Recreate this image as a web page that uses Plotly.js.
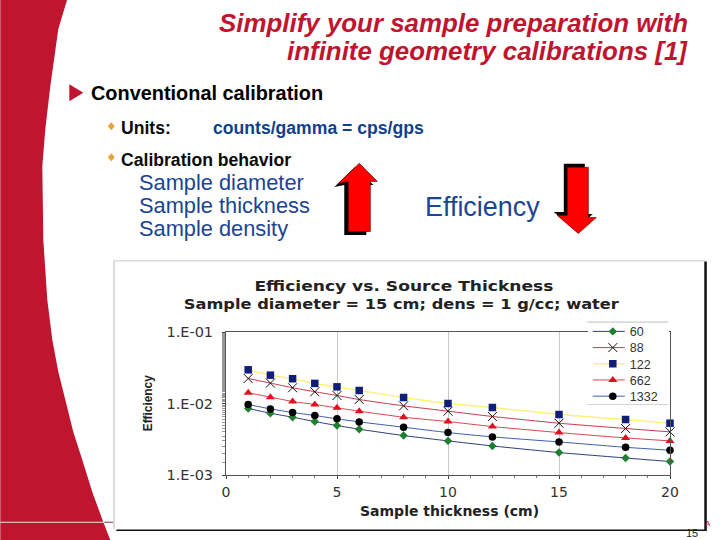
<!DOCTYPE html>
<html><head><meta charset="utf-8">
<script src="https://cdn.plot.ly/plotly-3.0.1.min.js"></script>
<style>html,body{margin:0;padding:0;background:#fff}#c{width:720px;height:540px}</style>
</head><body><div id="c"></div>
<script>
const thickness = [1,2,3,4,5,6,8,10,12,15,18,20];
const e60   = [.00851,.00731,.00643,.00559,.00492,.00437,.00356,.00300,.00255,.00206,.00173,.00154];
const e88   = [.0224,.0193,.0166,.0146,.01294,.01137,.00927,.00781,.00658,.0053,.00447,.00401];
const e122  = [.0296,.0249,.0222,.0191,.0171,.0152,.01213,.0100,.00879,.00701,.00597,.0053];
const e662  = [.0141,.01227,.01067,.00968,.00869,.00781,.00643,.00559,.00476,.00392,.0033,.0030];
const e1332 = [.00968,.00841,.00748,.00679,.0061,.00553,.00466,.00392,.00341,.0029,.00244,.00222];
const yTicks = [0.1,0.01,0.001];
const yLabels = ['1.E-01','1.E-02','1.E-03'];
const xTicks = [0,5,10,15,20];
const chartTitle1 = 'Efficiency vs. Source Thickness';
const chartTitle2 = 'Sample diameter = 15 cm; dens = 1 g/cc; water';
const yTitle = 'Efficiency';

const W=720,H=540,L=225.7,R=669.7,T=332.3,B=475;
const fx=x=>(x-L)/(R-L), fy=y=>1-(y-T)/(B-T);
const path=pts=>'M'+pts.map(p=>fx(p[0]).toFixed(4)+' '+fy(p[1]).toFixed(4)).join(' L')+' Z';
const poly=(pts,fill,lw,lc)=>({type:'path',xref:'paper',yref:'paper',path:path(pts),fillcolor:fill,line:{width:lw||0,color:lc||fill},layer:'below'});
const rect=(x0,y0,x1,y1,fill)=>({type:'rect',xref:'paper',yref:'paper',x0:fx(x0),x1:fx(x1),y0:fy(y0),y1:fy(y1),fillcolor:fill,line:{width:0},layer:'below'});
const txt=(s,x,y,size,color,anchor,family)=>({text:s,xref:'paper',yref:'paper',x:fx(x),y:fy(y),xanchor:anchor||'left',yanchor:'middle',showarrow:false,borderpad:0,font:{size:size,color:color,family:family||'Liberation Sans, Arial, sans-serif'}});
const bold=a=>{a.font.weight=700;return a;};

const crimson='#C0152F', blue='#1A4494', navy='#123F8C';
const swoosh=[[0,0],[67,0],[58,30],[50,87],[45,130],[42,167],[43,240],[47,300],[52,340],[58,372],[65,400],[73,432],[82,460],[92,492],[103,522],[110,540],[0,540]];
const upShaft=(dx,dy)=>[[359+dx,164+dy],[377+dx,182+dy],[370+dx,182+dy],[370+dx,232+dy],[348+dx,232+dy],[348+dx,182+dy],[338+dx,184+dy]];
const downShaft=(dx,dy)=>[[567+dx,168+dy],[588+dx,168+dy],[588+dx,218+dy],[596+dx,218+dy],[578+dx,234+dy],[557+dx,216+dy],[567+dx,216+dy]];

const shapes=[
  poly(swoosh,crimson),
  rect(0,521.6,104,522.6,'#f3dde0'),
  rect(104,521.6,114,522.6,'#8a2a45'),
  rect(113,261,705,530,'#ffffff'),
  rect(113,261,114.5,529,'#d0d0d0'),
  rect(113,260.5,705,262,'#dcdcdc'),
  rect(116,529.5,706,531,'#111111'),
  rect(704,262,706.5,531,'#111111'),
  poly([[69,85],[83,93.5],[69,102]],crimson),
  poly([[107.5,127],[111,123],[114.5,127],[111,131]],'#E8A23C'),
  poly([[107.5,158],[111,154],[114.5,158],[111,162]],'#E8A23C'),
  poly(upShaft(-4,3.5),'#000000'),
  poly(upShaft(0,0),'#FF0000',0.7,'#700000'),
  poly(downShaft(-3.5,-3.5),'#000000'),
  poly(downShaft(0,0),'#FF0000',0.7,'#700000'),
  {type:'line',xref:'paper',yref:'paper',x0:fx(587),x1:fx(668),y0:fy(322.5),y1:fy(322.5),line:{color:'#cccccc',width:1.3}},
  {type:'line',xref:'paper',yref:'paper',x0:fx(587),x1:fx(668),y0:fy(404.5),y1:fy(404.5),line:{color:'#cccccc',width:1}}
];

const annotations=[
  txt('<b><i>Simplify your sample preparation with</i></b>',689,24,25.9,crimson,'right'),
  txt('<b><i>infinite geometry calibrations [1]</i></b>',689,52,25.9,crimson,'right'),
  txt('<b>Conventional calibration</b>',90,94,19.9,'#000000'),
  txt('<b>Units:</b>',120,129,17.6,'#0a0a0a'),
  txt('<b>counts/gamma = cps/gps</b>',212,129,17.6,navy),
  txt('<b>Calibration behavior</b>',120,160.5,17.6,'#0a0a0a'),
  txt('Sample diameter',138,183.5,21.8,blue),
  txt('Sample thickness',138,206.5,21.8,blue),
  txt('Sample density',138,229,21.8,blue),
  txt('Efficiency',423.5,208,26.9,blue),
  bold(txt(chartTitle1,403.5,286,13.6,'#222222','center','DejaVu Sans, sans-serif')),
  bold(txt(chartTitle2,401.5,304,13.6,'#222222','center','DejaVu Sans, sans-serif')),
  txt('<b>Sample thickness (cm)</b>',449,511,14,'#222222','center','DejaVu Sans, sans-serif'),
  Object.assign(bold(txt(yTitle,148,403,13.5,'#222222','center','Liberation Sans, sans-serif')),{textangle:-90}),
  txt('15',692,532.5,11,'#222222','center'),
  txt('A',708,523,8,crimson,'center')
];
const stretch=[[chartTitle1,299],[chartTitle2,435],[yTitle,56]];

const mk=(name,y,lineColor,lineW,sym,size,mColor,extra)=>({
  type:'scatter',mode:'lines+markers',name,x:thickness,y,cliponaxis:false,
  line:{color:lineColor,width:lineW,shape:'spline',smoothing:0.6},
  marker:Object.assign({symbol:sym,size:size,color:mColor},extra||{})
});
const traces=[
  mk('60',e60,'#2a3f7a',1,'diamond',6.5,'#1E7F2E'),
  mk('88',e88,'#c73a4a',1,'x-thin-open',9,'#111111',{line:{width:1,color:'#111111'}}),
  mk('122',e122,'#FFF07A',1.5,'square',7.5,'#0F1E78'),
  mk('662',e662,'#d4484f',1,'triangle-up',8,'#E01020'),
  mk('1332',e1332,'#3a5fb0',1,'circle',7.5,'#000000')
];
const layout={
  width:W,height:H,
  margin:{l:L,r:W-R,t:T,b:H-B,pad:0},
  paper_bgcolor:'#ffffff',plot_bgcolor:'rgba(0,0,0,0)',
  showlegend:true,
  legend:{x:fx(587.5),y:fy(323),xanchor:'left',yanchor:'top',bgcolor:'#ffffff',borderwidth:0,
    font:{size:12.5,color:'#333',family:'Liberation Sans, sans-serif'},itemwidth:32,tracegroupgap:0},
  xaxis:{range:[0,20],tickvals:xTicks,ticktext:xTicks.map(String),ticks:'outside',ticklen:3,
    showgrid:true,gridcolor:'#c8c8c8',gridwidth:1,zeroline:false,showline:true,linecolor:'#555',linewidth:1,mirror:true,
    minor:{dtick:1,ticks:'outside',ticklen:2,showgrid:false,tickcolor:'#777'},
    tickfont:{size:14,color:'#333',family:'DejaVu Sans, sans-serif'},ticklabelstandoff:1},
  yaxis:{type:'log',range:[-3,-1],tickvals:yTicks,ticktext:yLabels,ticks:'outside',ticklen:3,
    showgrid:false,zeroline:false,showline:true,linecolor:'#555',linewidth:1,mirror:true,
    minor:{ticks:'outside',ticklen:3,tickcolor:'#999',showgrid:false},
    tickfont:{size:14.5,color:'#333',family:'DejaVu Sans, sans-serif'},ticklabelstandoff:6},
  shapes,annotations
};
Plotly.newPlot('c',traces,layout,{displayModeBar:false,staticPlot:true}).then(()=>{
  const root=document.getElementById('c');
  root.querySelectorAll('.legend .traces').forEach((g,i)=>{
    g.setAttribute('transform','translate(0,'+(8.7+16.2*i)+')');
  });
  root.querySelectorAll('.legend .legendsymbols').forEach(g=>g.setAttribute('transform','translate(4,0)'));
  root.querySelectorAll('.legend rect.bg').forEach(r=>{r.setAttribute('height','81');r.setAttribute('width','81');});
  root.querySelectorAll('.annotation-text').forEach(t=>{
    const s=stretch.find(p=>p[0]===t.textContent);
    if(s && parseFloat(t.style.fontSize)<20){t.setAttribute('textLength',s[1]);t.setAttribute('lengthAdjust','spacingAndGlyphs');}
  });
});
</script></body></html>
